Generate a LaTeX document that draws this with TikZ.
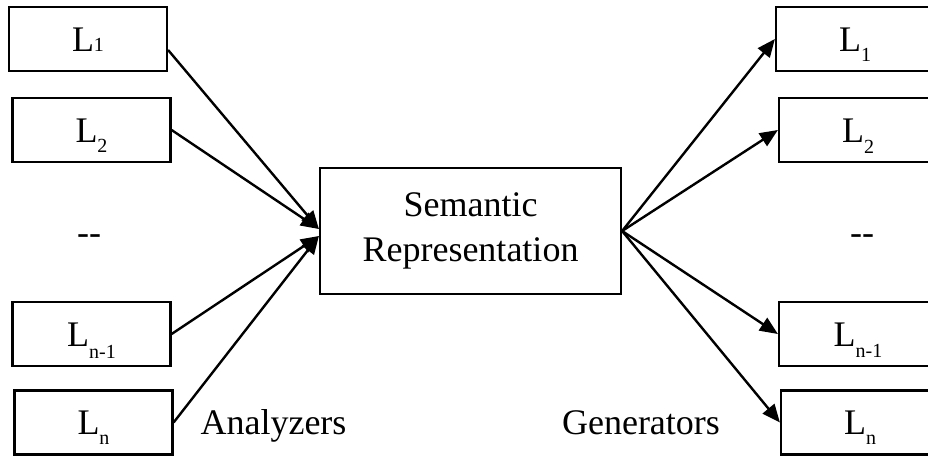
\documentclass[tikz,border=0pt]{standalone}
\usepackage{fontspec}
\setmainfont{Liberation Serif}
\usetikzlibrary{arrows.meta}

% language label: big L with a small, lowered index
\newcommand\langlab[2]{L\raisebox{#2}[0pt][0pt]{\fontsize{20}{20}\selectfont #1}}

\begin{document}
\begin{tikzpicture}[x=1pt,y=-1pt,
  lang/.style={draw,line width=2.2pt,minimum width=158pt,minimum height=64pt,
    inner sep=0pt,text height=24pt,text depth=0pt,font=\fontsize{36}{36}\selectfont},
  core/.style={draw,line width=2.2pt,minimum width=301pt,minimum height=126pt,
    inner sep=0pt,align=center,font=\fontsize{36}{45}\selectfont},
  plain/.style={inner sep=0pt,font=\fontsize{36}{36}\selectfont},
  link/.style={line width=2.4pt,-{Triangle[length=18pt,width=15pt]}}]
\clip (0,0) rectangle (928,455);
\fill[white] (0,0) rectangle (928,455);

% analyzers (left column)
\node[lang] (L1)  at (88,39)      {\langlab{1}{0pt}};
\node[lang] (L2)  at (91.5,130)   {\langlab{2}{-10pt}};
\node[plain] (DL) at (89,240)     {-{}-};
\node[lang] (Ln1) at (91.5,334)   {\langlab{n-1}{-12pt}};
\node[lang] (Ln)  at (93.5,422.5) {\langlab{n}{-10pt}};

% shared meaning representation
\node[core] (C) at (470.5,231) {Semantic\\Representation};

% generators (right column)
\node[lang] (R1)  at (855,39)     {\langlab{1}{-10pt}};
\node[lang] (R2)  at (858,130)    {\langlab{2}{-11pt}};
\node[plain] (DR) at (862,240)    {-{}-};
\node[lang] (Rn1) at (858,334)    {\langlab{n-1}{-11pt}};
\node[lang] (Rn)  at (860,422.5)  {\langlab{n}{-10pt}};

% captions
\node[plain,anchor=base] (A) at (273.5,434) {Analyzers};
\node[plain,anchor=base] (G) at (641,434) {Generators};

% analyzer connectors
\draw[link] ([yshift=-11pt]L1.east) -- ([yshift=2pt]C.west);
\draw[link] (L2.east)  -- ([yshift=2pt]C.west);
\draw[link] (Ln1.east) -- ([yshift=-5pt]C.west);
\draw[link] (Ln.east)  -- ([yshift=-5pt]C.west);

% generator connectors
\draw[link] (C.east) -- (R1.west);
\draw[link] (C.east) -- (R2.west);
\draw[link] (C.east) -- (Rn1.west);
\draw[link] (C.east) -- (Rn.west);
\end{tikzpicture}
\end{document}
